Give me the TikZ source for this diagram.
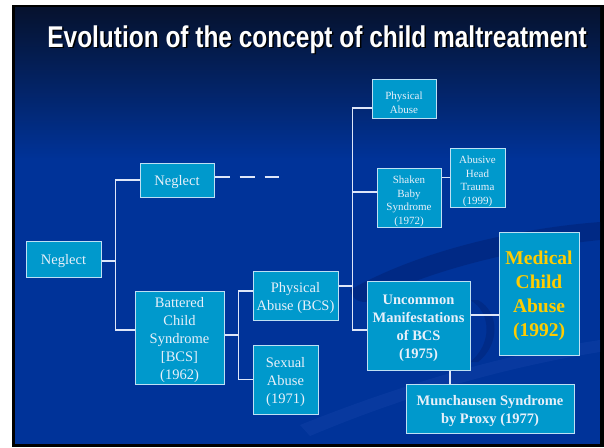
\documentclass[tikz,border=0pt]{standalone}
\usepackage{fontspec}
\setmainfont{Liberation Serif}
\newfontfamily\titlefont[FakeStretch=0.815]{Liberation Sans}
\usetikzlibrary{calc}

\definecolor{slideblue}{RGB}{0,51,153}
\definecolor{slidetop}{RGB}{6,18,46}
\definecolor{boxfill}{RGB}{0,153,204}
\definecolor{boxline}{RGB}{190,224,244}
\definecolor{boxtext}{RGB}{232,240,250}
\definecolor{linkcol}{RGB}{222,230,248}
\definecolor{goldtext}{RGB}{255,204,0}
\definecolor{swooshdark}{RGB}{0,38,125}
\definecolor{swooshlight}{RGB}{18,66,168}

\tikzset{
  box/.style={draw=boxline, fill=boxfill, line width=1pt, inner sep=0pt},
  boxtxt/.style={align=center, text=boxtext, inner sep=0pt, yshift=-2.5pt},
  bigtext/.style={boxtxt, font=\fontsize{14.5}{18}\selectfont},
  boldtext/.style={boxtxt, font=\fontsize{14.5}{18}\selectfont\bfseries},
  smalltext/.style={boxtxt, font=\fontsize{11}{13.5}\selectfont, yshift=-1.5pt},
  goldbig/.style={boxtxt, text=goldtext, font=\fontsize{19.5}{24}\selectfont\bfseries},
  titletext/.style={anchor=base, font=\titlefont\fontsize{30}{34}\selectfont\bfseries},
  link/.style={draw=linkcol, line width=1.3pt},
  dashlink/.style={link, dash pattern=on 15pt off 10pt}
}

\begin{document}
\begin{tikzpicture}[x=1pt,y=-1pt]
  % page and slide frame
  \fill[white] (0,0) rectangle (604,447);
  \useasboundingbox (0,0) rectangle (604,447);
  \fill[black] (12,5) rectangle (604,447);
  \fill[slideblue] (15,7) rectangle (600,444);
  \shade[top color=slidetop, bottom color=slideblue] (15,7) rectangle (600,160);

  % faint swoosh in the lower right
  \begin{scope}
    \clip (15,7) rectangle (600,444);
    \fill[swooshdark, opacity=0.7]
      (350,290) .. controls (420,250) and (520,228) .. (600,222)
      -- (600,240) .. controls (520,248) and (430,270) .. (372,300)
      .. controls (362,305) and (352,300) .. (350,290) -- cycle;
    \fill[swooshdark, opacity=0.6]
      (470,300) .. controls (492,312) and (492,345) .. (470,362)
      -- (478,362) .. controls (500,345) and (500,312) .. (478,300) -- cycle;
    \fill[swooshlight, opacity=0.45]
      (300,425) .. controls (400,385) and (500,355) .. (600,340)
      -- (600,352) .. controls (500,368) and (400,398) .. (310,436) -- cycle;
  \end{scope}

  % title with drop shadow
  \node[titletext, text=black] at (318.5,48.5) {Evolution of the concept of child maltreatment};
  \node[titletext, text=white] (title) at (317,47) {Evolution of the concept of child maltreatment};

  % boxes
  \node[box, minimum width=75pt, minimum height=36pt,
    label={[bigtext]center:Neglect}] (n0) at (63.5,259) {};
  \node[box, minimum width=74pt, minimum height=34pt,
    label={[bigtext]center:Neglect}] (n1) at (177,180) {};
  \node[box, minimum width=89pt, minimum height=93pt,
    label={[bigtext]center:{Battered\\Child\\Syndrome\\{[BCS]}\\(1962)}}] (bcs) at (179.5,337.5) {};
  \node[box, minimum width=85pt, minimum height=49pt,
    label={[bigtext]center:{Physical\\Abuse (BCS)}}] (pabcs) at (295.5,295.5) {};
  \node[box, minimum width=65pt, minimum height=69pt,
    label={[bigtext]center:{Sexual\\Abuse\\(1971)}}] (sex) at (285.5,379.5) {};
  \node[box, minimum width=64pt, minimum height=39pt,
    label={[smalltext]center:{Physical\\Abuse}}] (pa) at (404,98.5) {};
  \node[box, minimum width=64pt, minimum height=59pt,
    label={[smalltext]center:{Shaken\\Baby\\Syndrome\\(1972)}}] (sbs) at (409,197.5) {};
  \node[box, minimum width=55pt, minimum height=59pt,
    label={[smalltext]center:{Abusive\\Head\\Trauma\\(1999)}}] (aht) at (477.5,177.5) {};
  \node[box, minimum width=103pt, minimum height=89pt,
    label={[boldtext]center:{Uncommon\\Manifestations\\of BCS\\(1975)}}] (um) at (418.5,325.5) {};
  \node[box, minimum width=80pt, minimum height=123pt,
    label={[goldbig]center:{Medical\\Child\\Abuse\\(1992)}}] (mca) at (539,293.5) {};
  \node[box, minimum width=168pt, minimum height=49pt,
    label={[boldtext]center:{Munchausen Syndrome\\by Proxy (1977)}}] (msp) at (490,408.5) {};

  % connectors
  \draw[link] ([yshift=-2pt]n0.east) -- ++(14,0) coordinate (j1);
  \draw[link] (n1.west) -| (j1) |- ([yshift=7.5pt]bcs.west);
  \coordinate (dashend) at ($(n1.east)+(64,0)$);
  \draw[dashlink] ([yshift=3pt]n1.east) -- ([yshift=3pt]dashend);

  \draw[link] ([yshift=2.5pt]bcs.east) -- ++(14,0) coordinate (j2);
  \draw[link] ([yshift=4.5pt]pabcs.west) -| (j2) |- (sex.west);

  \draw[link] ([yshift=9.5pt]pabcs.east) -- ++(14,0) coordinate (j3);
  \draw[link] ([yshift=-9.5pt]pa.west) -| (j3) |- ([yshift=-4.5pt]um.west);
  \draw[link] ([yshift=5.5pt]sbs.west) -- ([yshift=5.5pt]sbs.west -| j3);

  \draw[link] (aht.west) -- (aht.west -| sbs.east);
  \draw[link] ([yshift=-21.5pt]mca.west) -- ([yshift=-21.5pt]mca.west -| um.east);
  \draw[link] ([xshift=31.5pt]um.south) -- ([xshift=31.5pt]um.south |- msp.north);
\end{tikzpicture}
\end{document}
